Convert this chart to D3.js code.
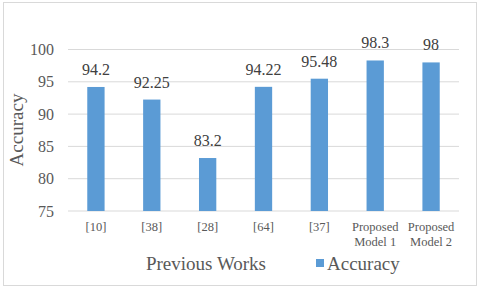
<!DOCTYPE html>
<html>
<head>
<meta charset="utf-8">
<script src="https://d3js.org/d3.v7.min.js"></script>
<style>
  body { margin: 0; background: #fff; }
  svg { display: block; }
  svg text { font-family: "Liberation Serif", "DejaVu Serif", serif; }
</style>
</head>
<body>
<svg id="chart" width="480" height="289"></svg>
<script>
const categories = ["[10]", "[38]", "[28]", "[64]", "[37]", "Proposed\nModel 1", "Proposed\nModel 2"];
const accuracy = [94.2, 92.25, 83.2, 94.22, 95.48, 98.3, 98];
const yTicks = [75, 80, 85, 90, 95, 100];

const svg = d3.select("#chart");
const margin = { left: 68, right: 21, top: 49.5, bottom: 78 };
const W = 480, H = 289;

svg.append("rect")
  .attr("x", 3.5).attr("y", 2.5)
  .attr("width", 473).attr("height", 283)
  .attr("fill", "#fff").attr("stroke", "#d9d9d9");

const x = d3.scaleBand()
  .domain(categories)
  .range([margin.left, W - margin.right])
  .paddingInner(0.69)
  .paddingOuter(0.345);

const y = d3.scaleLinear()
  .domain([75, 100])
  .range([H - margin.bottom, margin.top]);

// gridlines
svg.append("g")
  .selectAll("line")
  .data(yTicks)
  .enter()
  .append("line")
  .attr("x1", margin.left)
  .attr("x2", W - margin.right)
  .attr("y1", d => y(d))
  .attr("y2", d => y(d))
  .attr("stroke", "#d9d9d9")
  .attr("stroke-width", 1);

// y tick labels
svg.append("g")
  .selectAll("text")
  .data(yTicks)
  .enter()
  .append("text")
  .attr("x", 54)
  .attr("y", d => y(d) + 5.5)
  .attr("text-anchor", "end")
  .attr("font-family", "Liberation Serif")
  .attr("font-size", 16)
  .attr("fill", "#595959")
  .text(d => d);

// bars
svg.append("g")
  .selectAll("rect")
  .data(accuracy)
  .enter()
  .append("rect")
  .attr("x", (d, i) => x(categories[i]))
  .attr("y", d => y(d))
  .attr("width", x.bandwidth())
  .attr("height", d => y(75) - y(d))
  .attr("fill", "#5b9bd5");

// data labels
svg.append("g")
  .selectAll("text")
  .data(accuracy)
  .enter()
  .append("text")
  .attr("x", (d, i) => x(categories[i]) + x.bandwidth() / 2)
  .attr("y", d => y(d) - 12)
  .attr("text-anchor", "middle")
  .attr("font-family", "Liberation Serif")
  .attr("font-size", 16)
  .attr("fill", "#404040")
  .text(d => d);

// x tick labels
const xl = svg.append("g")
  .selectAll("text")
  .data(categories)
  .enter()
  .append("text")
  .attr("text-anchor", "middle")
  .attr("font-family", "Liberation Serif")
  .attr("font-size", 12.5)
  .attr("fill", "#595959");
xl.selectAll("tspan")
  .data(d => d.split("\n").map(s => ({ s, c: d })))
  .enter()
  .append("tspan")
  .attr("x", d => x(d.c) + x.bandwidth() / 2)
  .attr("y", (d, i) => 231 + i * 15)
  .text(d => d.s);

// axis titles
svg.append("text")
  .attr("x", 206)
  .attr("y", 270)
  .attr("text-anchor", "middle")
  .attr("font-family", "Liberation Serif")
  .attr("font-size", 19)
  .attr("fill", "#595959")
  .text("Previous Works");

svg.append("text")
  .attr("transform", "translate(23,130) rotate(-90)")
  .attr("text-anchor", "middle")
  .attr("font-family", "Liberation Serif")
  .attr("font-size", 19)
  .attr("fill", "#595959")
  .text("Accuracy");

// legend
svg.append("rect")
  .attr("x", 316).attr("y", 259)
  .attr("width", 8).attr("height", 8)
  .attr("fill", "#5b9bd5");
svg.append("text")
  .attr("x", 327)
  .attr("y", 270)
  .attr("font-family", "Liberation Serif")
  .attr("font-size", 19)
  .attr("fill", "#595959")
  .text("Accuracy");
</script>
</body>
</html>
